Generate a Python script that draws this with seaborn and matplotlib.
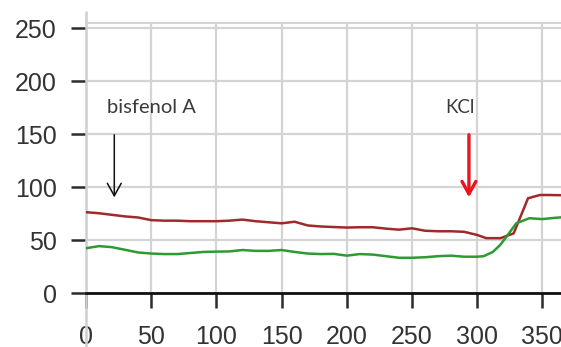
import numpy as np
import pandas as pd
import matplotlib
matplotlib.use("Agg")
import matplotlib.pyplot as plt
import seaborn as sns

# Time points (s) and traces
time_red = [0, 10, 20, 30, 40, 50, 60, 70, 80, 90, 100, 110, 120, 130, 140, 150,
            160, 170, 180, 190, 200, 210, 220, 230, 240, 250, 260, 270, 280, 290,
            300, 307, 318, 328, 339, 348, 355, 365]
red_values = [76.5, 75.5, 74.0, 72.5, 71.5, 69.0, 68.5, 68.5, 68.0, 68.0, 68.0, 68.5,
              69.5, 68.0, 67.0, 66.0, 67.5, 64.0, 63.0, 62.5, 62.0, 62.3, 62.3, 61.0,
              60.0, 61.3, 59.0, 58.5, 58.5, 58.0, 55.0, 52.0, 52.0, 56.5, 89.6, 92.7,
              92.7, 92.5]

time_green = [0, 10, 20, 30, 40, 50, 60, 70, 80, 90, 100, 110, 120, 130, 140, 150,
              160, 170, 180, 190, 200, 210, 220, 230, 240, 250, 260, 270, 280, 290,
              300, 305, 312, 318, 324, 330, 340, 350, 358, 365]
green_values = [42.5, 44.5, 43.5, 41.0, 38.5, 37.5, 37.0, 37.0, 38.0, 39.0, 39.3, 39.5,
                40.8, 40.0, 40.0, 40.8, 39.0, 37.5, 37.0, 37.2, 35.5, 37.0, 36.5, 35.0,
                33.5, 33.5, 34.0, 35.0, 35.5, 34.5, 34.5, 35.0, 39.0, 46.0, 56.0, 66.0,
                70.8, 70.0, 71.0, 71.7]

series_names = ["red", "green"]
series_colors = {"red": "#9e2a2b", "green": "#2e9a34"}

x_ticks = [0, 50, 100, 150, 200, 250, 300, 350]
y_ticks = [0, 50, 100, 150, 200, 250]

# label, label x, label y, label size, arrow x, arrow colour, arrow width
annotations = [("bisfenol A", 50, 175, 14.5, 21.7, "#111111", 1.1),
               ("KCl", 287, 175, 13.5, 293.7, "#e8161c", 2.4)]

df = pd.concat([
    pd.DataFrame({"time": time_red, "value": red_values, "series": "red"}),
    pd.DataFrame({"time": time_green, "value": green_values, "series": "green"}),
], ignore_index=True)

sns.set_style("white")
plt.rcParams["font.family"] = ["Liberation Sans", "DejaVu Sans"]

fig = plt.figure(figsize=(5.61, 3.47), dpi=100)
ax = fig.add_axes([0.1533, 0.1548, 1.0 - 0.1533, 0.9329 - 0.1548])
ax.set_axisbelow(True)

grid_color = "#d4d4d4"
sns.lineplot(data=df, x="time", y="value", hue="series", hue_order=series_names,
             palette=series_colors, linewidth=1.8, legend=False, ax=ax,
             estimator=None, sort=False, zorder=3)

ax.set_xlim(0, 364.3)
ax.set_ylim(0, 254.7)
ax.set_xticks(x_ticks)
ax.set_yticks(y_ticks)
ax.set_xlabel("")
ax.set_ylabel("")
ax.grid(True, color=grid_color, linewidth=1.6)

for side in ["left", "right"]:
    ax.spines[side].set_visible(False)
ax.spines["top"].set_color(grid_color)
ax.spines["top"].set_linewidth(1.5)
ax.spines["bottom"].set_color("#111111")
ax.spines["bottom"].set_linewidth(2.0)
ax.spines["bottom"].set_zorder(4)

# long vertical line at x = 0, running past the plotting area
ax.axvline(0, ymin=-0.2, ymax=1.042, color="#cfcfcf", linewidth=1.8,
           clip_on=False, zorder=1)

ax.tick_params(axis="both", direction="out", length=11, width=1.8,
               colors="#2b2b2b", labelsize=18, labelcolor="#333333",
               bottom=True, left=True)
ax.tick_params(axis="x", pad=11.5)
ax.tick_params(axis="y", pad=10)

for label, tx, ty, size, arrow_x, color, lw in annotations:
    ax.text(tx, ty, label, ha="center", va="center", fontsize=size,
            family=["Lato", "DejaVu Sans"], color="#3a3a3a")
    ax.annotate("", xy=(arrow_x, 90.5), xytext=(arrow_x, 149.5),
                arrowprops=dict(arrowstyle="->,head_length=0.9,head_width=0.5",
                                color=color, lw=lw, shrinkA=0, shrinkB=0),
                zorder=5)

fig.savefig("out.png", dpi=100)
